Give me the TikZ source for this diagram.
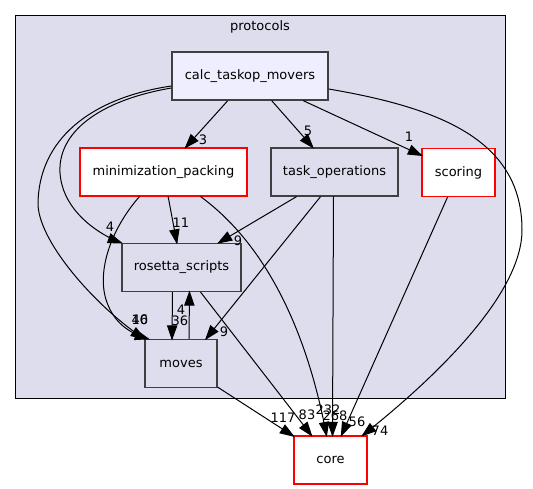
\documentclass[tikz,border=0pt]{standalone}
\usepackage{fontspec}
\setmainfont{DejaVu Sans}
\usetikzlibrary{arrows.meta}
\definecolor{clfill}{HTML}{DDDDEE}
\definecolor{mainfill}{HTML}{EEEEFF}
\definecolor{nodeborder}{HTML}{404040}
\definecolor{redborder}{HTML}{FF0000}
\pgfarrowsdeclare{gvarrow}{gvarrow}
{\pgfarrowsleftextend{-14pt}\pgfarrowsrightextend{0pt}}
{\pgfsetdash{}{0pt}\pgfsetmiterjoin
 \pgfpathmoveto{\pgfpoint{0pt}{0pt}}
 \pgfpathlineto{\pgfpoint{-13pt}{4.6pt}}
 \pgfpathlineto{\pgfpoint{-13pt}{-4.6pt}}
 \pgfpathclose\pgfusepathqfillstroke}
\begin{document}
\begin{tikzpicture}[x=1pt,y=-1pt,
  txt/.style={font=\fontsize{13}{15}\selectfont},
  box/.style={txt, rectangle, draw=nodeborder, line width=1.3pt, minimum height=48pt, inner sep=0pt},
  mainbox/.style={box, fill=mainfill},
  graybox/.style={box, fill=clfill},
  redbox/.style={box, draw=redborder, line width=1.1pt, fill=white},
  lbl/.style={txt, inner sep=0pt},
  dep/.style={draw=black, line width=1pt, -gvarrow}]
\useasboundingbox (0,0) rectangle (533,489);
% cluster
\node[draw=black, line width=1pt, fill=clfill, minimum width=490pt, minimum height=382pt, inner sep=0pt] (cluster) at (260,207) {};
\node[lbl] (cltitle) at (260,27) {protocols};
% nodes
\node[mainbox, minimum width=156pt] (calc) at (250,76) {calc\_taskop\_movers};
\node[redbox, minimum width=167pt] (mini) at (163.5,172) {minimization\_packing};
\node[graybox, minimum width=127pt] (task) at (334.5,172) {task\_operations};
\node[redbox, minimum width=73pt] (scoring) at (458.5,172.5) {scoring};
\node[graybox, minimum width=119pt] (rosetta) at (181.5,267.5) {rosetta\_scripts};
\node[graybox, minimum width=72pt] (moves) at (181,363.5) {moves};
\node[redbox, minimum width=73pt] (core) at (330.5,460) {core};
% edges
\draw[dep] (calc) -- (mini);
\draw[dep] (calc) -- (task);
\draw[dep] (calc) -- (scoring);
\draw[dep] ([yshift=-12pt]calc.west) .. controls (90,102) and (50,140) .. (62,185) .. controls (70,215) and (100,235) .. (rosetta.north west);
\draw[dep] ([yshift=-10pt]calc.west) .. controls (90,98) and (38,140) .. (38,205) .. controls (40,245) and (100,310) .. (moves.north west);
\draw[dep] ([yshift=-13pt]calc.east) .. controls (440,108) and (522,140) .. (522,230) .. controls (522,300) and (420,390) .. ([xshift=-5pt]core.north east);
\draw[dep] (mini) -- (rosetta);
\draw[dep] ([xshift=-24pt]mini.south) .. controls (110,230) and (95,275) .. (108,305) .. controls (116,325) and (132,334) .. ([xshift=4pt]moves.north west);
\draw[dep] ([xshift=37pt]mini.south) .. controls (260,240) and (305,320) .. ([xshift=-4pt]core.north);
\draw[dep] ([xshift=-38pt]task.south) -- ([xshift=37pt]rosetta.north);
\draw[dep] ([xshift=-14pt]task.south) -- ([xshift=25pt]moves.north);
\draw[dep] ([xshift=-1pt]task.south) -- ([xshift=2pt]core.north);
\draw[dep] (scoring) -- (core);
\draw[dep] ([xshift=-9pt]rosetta.south) -- ([xshift=-9pt]moves.north);
\draw[dep] ([xshift=8pt]moves.north) -- ([xshift=8pt]rosetta.south);
\draw[dep] (rosetta) -- (core);
\draw[dep] (moves) -- (core);
% edge labels
\node[lbl] (l3) at (203,139.5) {3};
\node[lbl] (l5) at (308,131) {5};
\node[lbl] (l1) at (409,137) {1};
\node[lbl] (l4a) at (110,227) {4};
\node[lbl] (l11) at (181,223) {11};
\node[lbl] (l9a) at (238,241) {9};
\node[lbl] (l4b) at (181,310) {4};
\node[lbl] (l36) at (180,321) {36};
\node[lbl] (l16) at (140,320) {16};
\node[lbl] (l40) at (140,320) {40};
\node[lbl] (l9b) at (224,332) {9};
\node[lbl] (l117) at (283,418) {117};
\node[lbl] (l83) at (307,415) {83};
\node[lbl] (l232) at (328,410) {232};
\node[lbl] (l268) at (335,416) {268};
\node[lbl] (l56) at (357,422) {56};
\node[lbl] (l74) at (380,431) {74};
\end{tikzpicture}
\end{document}
